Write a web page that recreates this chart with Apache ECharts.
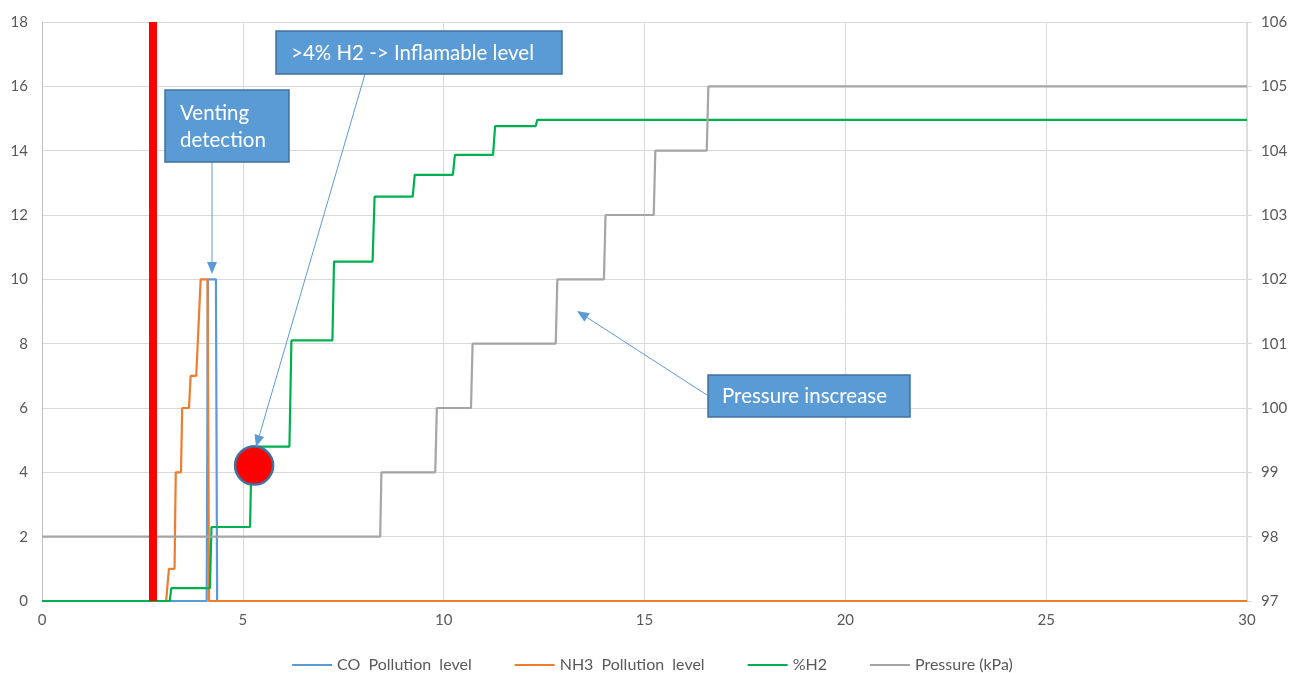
<!DOCTYPE html>
<html><head><meta charset="utf-8">
<script src="https://cdn.jsdelivr.net/npm/echarts@6/dist/echarts.min.js"></script>
<style>html,body{margin:0;padding:0;background:#fff}#c{width:1305px;height:673px}</style>
</head><body><div id="c"></div>
<script>
// ---- data (time, value) ----
const coLevel = [[0,0],[4.10,0],[4.13,10],[4.33,10],[4.36,0],[30,0]];
const nh3Level = [[0,0],[3.09,0],[3.16,1],[3.30,1],[3.33,4],[3.46,4],[3.49,6],[3.66,6],[3.70,7],[3.84,7],[3.95,10],[4.12,10],[4.16,0],[30,0]];
const h2Percent = [[0,0],[3.18,0],[3.22,0.4],[4.18,0.4],[4.22,2.3],[5.18,2.3],[5.22,4.8],[6.16,4.8],[6.21,8.1],[7.23,8.1],[7.27,10.55],[8.23,10.55],[8.28,12.57],[9.23,12.57],[9.28,13.25],[10.23,13.25],[10.28,13.87],[11.23,13.87],[11.28,14.76],[12.29,14.76],[12.33,14.96],[30,14.96]];
const pressureKPa = [[0,98],[8.42,98],[8.45,99],[9.79,99],[9.83,100],[10.68,100],[10.72,101],[12.79,101],[12.83,102],[13.99,102],[14.03,103],[15.23,103],[15.27,104],[16.55,104],[16.59,105],[30,105]];
const seriesNames = ['CO  Pollution  level','NH3  Pollution  level','%H2','Pressure (kPa)'];
const ventingTime = 2.76;
const ignitionPoint = [[5.28, 4.21]];
const annotations = ['Venting\ndetection', '>4% H2 -> Inflamable level', 'Pressure inscrease'];

const FONT = 'Lato, "Open Sans", sans-serif';
const chart = echarts.init(document.getElementById('c'), null, {renderer:'canvas'});
const axisLabel = {color:'#595959', fontSize:15, fontFamily:FONT};
const lineS = (name, data, color, yIdx) => ({
  name, type:'line', data, yAxisIndex:yIdx, showSymbol:false, symbol:'none',
  lineStyle:{color, width:2.2}, itemStyle:{color}, animation:false
});

function arrow(x1,y1,x2,y2){
  const ang = Math.atan2(y2-y1, x2-x1), L=12, W=5;
  const bx = x2 - L*Math.cos(ang), by = y2 - L*Math.sin(ang);
  const px = -Math.sin(ang)*W, py = Math.cos(ang)*W;
  return [
    {type:'line', shape:{x1,y1,x2:bx,y2:by}, style:{stroke:'#5B9BD5', lineWidth:1}, z:100},
    {type:'polygon', shape:{points:[[x2,y2],[bx+px,by+py],[bx-px,by-py]]}, style:{fill:'#5B9BD5'}, z:100}
  ];
}
function box(x,y,w,h,text,tx,ty,lh){
  return [
    {type:'rect', shape:{x,y,width:w,height:h}, style:{fill:'#5B9BD5', stroke:'#41719C', lineWidth:1.5}, z:101},
    {type:'text', x:tx, y:ty, style:{text, fill:'#fff', font:'20.5px '+FONT, lineHeight:lh||24, textVerticalAlign:'middle'}, z:102}
  ];
}

chart.setOption({
  animation:false,
  textStyle:{fontFamily:FONT},
  grid:{left:42, right:58, top:22, bottom:72, containLabel:false},
  legend:{
    data:seriesNames, top:652, left:'center', icon:'rect', itemWidth:40, itemHeight:2, itemGap:43,
    textStyle:{color:'#595959', fontSize:16, fontFamily:FONT}
  },
  xAxis:{type:'value', min:0, max:30, interval:5,
    axisLine:{show:true, lineStyle:{color:'#d9d9d9'}}, axisTick:{show:false},
    splitLine:{show:true, lineStyle:{color:'#d9d9d9', width:1}},
    axisLabel:Object.assign({margin:12}, axisLabel)},
  yAxis:[
    {type:'value', min:0, max:18, interval:2, axisLine:{show:true, lineStyle:{color:'#bfbfbf'}}, axisTick:{show:false},
     splitLine:{lineStyle:{color:'#d9d9d9', width:1}}, axisLabel:Object.assign({margin:14}, axisLabel)},
    {type:'value', min:97, max:106, interval:1, position:'right',
     axisLine:{show:true, lineStyle:{color:'#d9d9d9', width:1.5}},
     axisTick:{show:true, length:5, lineStyle:{color:'#d9d9d9'}},
     splitLine:{show:false}, axisLabel:Object.assign({margin:14}, axisLabel)}
  ],
  series:[
    Object.assign(lineS(seriesNames[0], coLevel, '#5B9BD5', 0), {
      markLine:{silent:true, symbol:'none', label:{show:false}, animation:false,
        lineStyle:{color:'#FF0000', width:8, type:'solid', opacity:1},
        emphasis:{disabled:true},
        data:[{xAxis:ventingTime}]}
    }),
    lineS(seriesNames[1], nh3Level, '#ED7D31', 0),
    lineS(seriesNames[2], h2Percent, '#00B050', 0),
    lineS(seriesNames[3], pressureKPa, '#A5A5A5', 1),
    {name:'ignition', type:'scatter', data:ignitionPoint, yAxisIndex:0, symbolSize:38, z:10,
     itemStyle:{color:'#FF0000', borderColor:'#41719C', borderWidth:2.5, opacity:1}, silent:true}
  ]
});

const g = [].concat(
  arrow(212,162,212,274),
  arrow(365,74,256,447),
  arrow(707,395,577,311),
  box(165,90,124,72,annotations[0],180,127,27),
  box(276,31,286,43,annotations[1],291,53),
  box(708,375,202,42,annotations[2],722,396)
);
chart.setOption({graphic:{elements:g}});
</script></body></html>
